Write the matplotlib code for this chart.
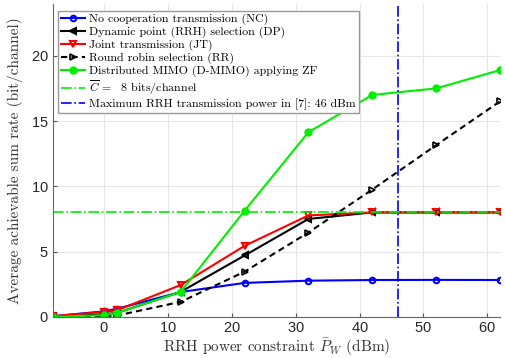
import matplotlib
matplotlib.use("Agg")
import matplotlib.pyplot as plt
import numpy as np

plt.rcParams["mathtext.fontset"] = "cm"

# RRH power constraint (dBm)
p_w = [-8, 0, 2, 12, 22, 32, 42, 52, 62]

# average achievable sum rate (bit/channel)
nc = [0.05, 0.42, 0.62, 1.9, 2.6, 2.77, 2.82, 2.83, 2.82]
dp = [0.0, 0.2, 0.3, 1.92, 4.7, 7.5, 8.0, 8.0, 8.0]
jt = [0.05, 0.38, 0.5, 2.44, 5.44, 7.77, 8.0, 8.0, 8.0]
rr = [0.0, 0.05, 0.1, 1.15, 3.46, 6.46, 9.75, 13.15, 16.5]
dmimo = [0.0, 0.13, 0.3, 1.92, 8.13, 14.15, 17.0, 17.5, 18.9]

c_bar = 8
p_max = 46

labels = ["No cooperation transmission (NC)",
          "Dynamic point (RRH) selection (DP)",
          "Joint transmission (JT)",
          "Round robin selection (RR)",
          "Distributed MIMO (D-MIMO) applying ZF",
          r"$\overline{C}\, =$  8 bits/channel",
          "Maximum RRH transmission power in [7]: 46 dBm"]

plt.rcParams["font.family"] = "serif"
plt.rcParams["font.serif"] = ["cmr10", "DejaVu Serif"]
plt.rcParams["axes.formatter.use_mathtext"] = True

fig = plt.figure(figsize=(5.06, 3.58), dpi=100)
ax = fig.add_axes([0.105, 0.115, 0.883, 0.875])

ax.plot(p_w, nc, color="#0000ff", marker="o", ms=4, mfc="none", mew=1.5, lw=1.5, label=labels[0])
ax.plot(p_w, dp, color="black", marker="<", ms=4.5, mfc="none", mew=1.5, lw=1.5, label=labels[1])
ax.plot(p_w, jt, color="#ff0000", marker="v", ms=4.5, mfc="none", mew=1.5, lw=1.5, label=labels[2])
ax.plot(p_w, rr, color="black", ls=(0, (3, 2)), marker=">", ms=4.5, mfc="none", mew=1.2, lw=1.5, label=labels[3])
ax.plot(p_w, dmimo, color="#00ee00", marker="o", ms=5, lw=1.5, label=labels[4])
ax.axhline(c_bar, color="#00ee00", ls="-.", lw=1.2, label=labels[5])
ax.axvline(p_max, color="#0000ff", ls="-.", lw=1.2, label=labels[6])

ax.set_xlim(-8, 62)
ax.set_ylim(0, 24)
ax.set_xticks(np.arange(0, 61, 10))
ax.set_yticks(np.arange(0, 21, 5))
for lab in ax.get_xticklabels() + ax.get_yticklabels():
    lab.set_family("Liberation Sans")
    lab.set_fontsize(10.5)
    lab.set_color("#262626")
ax.tick_params(direction="in", length=3, color="#555555", pad=3)
ax.grid(True, color="#e6e6e6", lw=0.8)
ax.set_axisbelow(True)
for s in ["top", "right"]:
    ax.spines[s].set_visible(False)
for s in ["left", "bottom"]:
    ax.spines[s].set_color("#666666")

ax.set_xlabel(r"RRH power constraint $\bar{P}_W$ (dBm)", fontsize=11, color="#333333", labelpad=1)
ax.set_ylabel("Average achievable sum rate (bit/channel)", fontsize=11, color="#333333", labelpad=6)

leg = ax.legend(loc="upper left", bbox_to_anchor=(0.005, 0.985), fontsize=8.6, fancybox=False,
                edgecolor="#999999", framealpha=1, handlelength=2.0, handletextpad=0.4,
                labelspacing=0.12, borderpad=0.25, borderaxespad=0.2)
leg.get_frame().set_linewidth(1.0)

fig.savefig("out.png", dpi=100)
